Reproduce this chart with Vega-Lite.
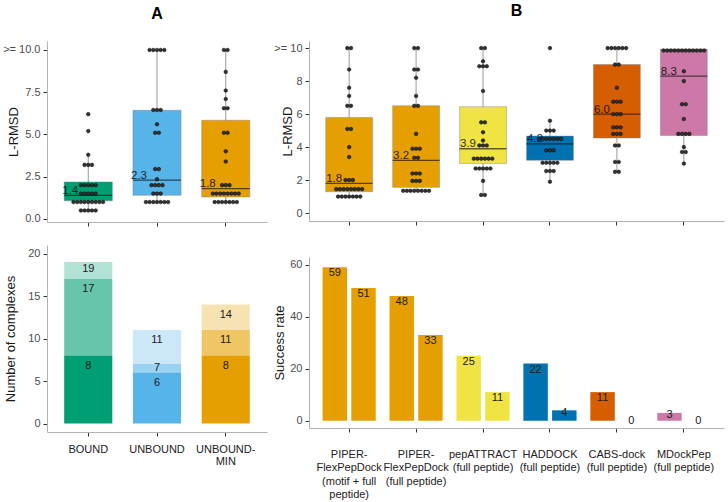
{
  "$schema": "https://vega.github.io/schema/vega-lite/v6.json",
  "padding": {"left": 2, "top": 3, "right": 3, "bottom": 0},
  "background": "white",
  "config": {
    "font": "Liberation Sans",
    "view": {"stroke": null},
    "axis": {"domainColor": "#b3b3b3", "domainWidth": 1, "tickColor": "#333333", "tickSize": 4, "labelColor": "#4d4d4d", "labelFontSize": 11, "labelFont": "Liberation Sans", "titleFont": "Liberation Sans", "titleFontSize": 13, "titleFontWeight": "normal", "titleColor": "#1a1a1a", "grid": false, "labelPadding": 3, "labelOverlap": false},
    "axisX": {"labelAngle": 0},
    "title": {"font": "Liberation Sans", "fontSize": 16, "fontWeight": "bold", "color": "#000000", "anchor": "middle", "frame": "group"}
  },
  "datasets": {
    "boxA": [
      {"g": "BOUND", "lo": 0.5, "q1": 1.07, "med": 1.4, "q3": 2.19, "hi": 3.8},
      {"g": "UNBOUND", "lo": 1.0, "q1": 1.4, "med": 2.3, "q3": 6.43, "hi": 10},
      {"g": "UNBOUND-MIN", "lo": 1.0, "q1": 1.3, "med": 1.8, "q3": 5.84, "hi": 10}
    ],
    "boxB": [
      {"g": "PIPER-FlexPepDock (motif + full peptide)", "lo": 1.0, "q1": 1.29, "med": 1.8, "q3": 5.8, "hi": 10},
      {"g": "PIPER-FlexPepDock (full peptide)", "lo": 1.35, "q1": 1.56, "med": 3.2, "q3": 6.5, "hi": 10},
      {"g": "pepATTRACT (full peptide)", "lo": 1.1, "q1": 3.0, "med": 3.9, "q3": 6.45, "hi": 10},
      {"g": "HADDOCK (full peptide)", "lo": 1.9, "q1": 3.2, "med": 4.2, "q3": 4.67, "hi": 5.6},
      {"g": "CABS-dock (full peptide)", "lo": 2.5, "q1": 4.55, "med": 6.0, "q3": 9.0, "hi": 10},
      {"g": "MDockPep (full peptide)", "lo": 3.0, "q1": 4.7, "med": 8.3, "q3": 9.94, "hi": 9.94}
    ],
    "dotsA": [
      {"g": "BOUND", "v": 6.2}, {"g": "BOUND", "v": 5.2}, {"g": "BOUND", "v": 3.8},
      {"g": "BOUND", "v": 3.2}, {"g": "BOUND", "v": 3.2}, {"g": "BOUND", "v": 3.2},
      {"g": "BOUND", "v": 2.0}, {"g": "BOUND", "v": 2.0}, {"g": "BOUND", "v": 2.0}, {"g": "BOUND", "v": 2.0}, {"g": "BOUND", "v": 2.0},
      {"g": "BOUND", "v": 1.5}, {"g": "BOUND", "v": 1.5}, {"g": "BOUND", "v": 1.5}, {"g": "BOUND", "v": 1.5}, {"g": "BOUND", "v": 1.5},
      {"g": "BOUND", "v": 1.0}, {"g": "BOUND", "v": 1.0}, {"g": "BOUND", "v": 1.0}, {"g": "BOUND", "v": 1.0}, {"g": "BOUND", "v": 1.0},
      {"g": "BOUND", "v": 1.0}, {"g": "BOUND", "v": 1.0}, {"g": "BOUND", "v": 1.0}, {"g": "BOUND", "v": 1.0},
      {"g": "BOUND", "v": 0.5}, {"g": "BOUND", "v": 0.5}, {"g": "BOUND", "v": 0.5}, {"g": "BOUND", "v": 0.5}, {"g": "BOUND", "v": 0.5},
      {"g": "UNBOUND", "v": 10}, {"g": "UNBOUND", "v": 10}, {"g": "UNBOUND", "v": 10}, {"g": "UNBOUND", "v": 10}, {"g": "UNBOUND", "v": 10},
      {"g": "UNBOUND", "v": 6.45}, {"g": "UNBOUND", "v": 6.45}, {"g": "UNBOUND", "v": 6.45},
      {"g": "UNBOUND", "v": 5.6}, {"g": "UNBOUND", "v": 5.1}, {"g": "UNBOUND", "v": 5.1},
      {"g": "UNBOUND", "v": 2.95}, {"g": "UNBOUND", "v": 2.95}, {"g": "UNBOUND", "v": 2.35},
      {"g": "UNBOUND", "v": 2.0}, {"g": "UNBOUND", "v": 2.0}, {"g": "UNBOUND", "v": 2.0}, {"g": "UNBOUND", "v": 2.0},
      {"g": "UNBOUND", "v": 1.5}, {"g": "UNBOUND", "v": 1.5}, {"g": "UNBOUND", "v": 1.5},
      {"g": "UNBOUND", "v": 1.0}, {"g": "UNBOUND", "v": 1.0}, {"g": "UNBOUND", "v": 1.0}, {"g": "UNBOUND", "v": 1.0}, {"g": "UNBOUND", "v": 1.0}, {"g": "UNBOUND", "v": 1.0}, {"g": "UNBOUND", "v": 1.0},
      {"g": "UNBOUND-MIN", "v": 10}, {"g": "UNBOUND-MIN", "v": 10}, {"g": "UNBOUND-MIN", "v": 8.7}, {"g": "UNBOUND-MIN", "v": 7.6}, {"g": "UNBOUND-MIN", "v": 7.1},
      {"g": "UNBOUND-MIN", "v": 6.55}, {"g": "UNBOUND-MIN", "v": 6.55}, {"g": "UNBOUND-MIN", "v": 5.1}, {"g": "UNBOUND-MIN", "v": 5.1},
      {"g": "UNBOUND-MIN", "v": 4.0}, {"g": "UNBOUND-MIN", "v": 3.4},
      {"g": "UNBOUND-MIN", "v": 2.0}, {"g": "UNBOUND-MIN", "v": 2.0}, {"g": "UNBOUND-MIN", "v": 2.0},
      {"g": "UNBOUND-MIN", "v": 1.5}, {"g": "UNBOUND-MIN", "v": 1.5}, {"g": "UNBOUND-MIN", "v": 1.5}, {"g": "UNBOUND-MIN", "v": 1.5},
      {"g": "UNBOUND-MIN", "v": 1.5}, {"g": "UNBOUND-MIN", "v": 1.5}, {"g": "UNBOUND-MIN", "v": 1.5}, {"g": "UNBOUND-MIN", "v": 1.5},
      {"g": "UNBOUND-MIN", "v": 1.0}, {"g": "UNBOUND-MIN", "v": 1.0}, {"g": "UNBOUND-MIN", "v": 1.0}, {"g": "UNBOUND-MIN", "v": 1.0},
      {"g": "UNBOUND-MIN", "v": 1.0}, {"g": "UNBOUND-MIN", "v": 1.0}, {"g": "UNBOUND-MIN", "v": 1.0}
    ],
    "dotsB": [
      {"g": "PIPER-FlexPepDock (motif + full peptide)", "v": 10}, {"g": "PIPER-FlexPepDock (motif + full peptide)", "v": 10},
      {"g": "PIPER-FlexPepDock (motif + full peptide)", "v": 8.7}, {"g": "PIPER-FlexPepDock (motif + full peptide)", "v": 7.6},
      {"g": "PIPER-FlexPepDock (motif + full peptide)", "v": 7.1}, {"g": "PIPER-FlexPepDock (motif + full peptide)", "v": 6.5},
      {"g": "PIPER-FlexPepDock (motif + full peptide)", "v": 6.5}, {"g": "PIPER-FlexPepDock (motif + full peptide)", "v": 5.1},
      {"g": "PIPER-FlexPepDock (motif + full peptide)", "v": 5.1}, {"g": "PIPER-FlexPepDock (motif + full peptide)", "v": 4.0},
      {"g": "PIPER-FlexPepDock (motif + full peptide)", "v": 3.4}, {"g": "PIPER-FlexPepDock (motif + full peptide)", "v": 2.0},
      {"g": "PIPER-FlexPepDock (motif + full peptide)", "v": 2.0}, {"g": "PIPER-FlexPepDock (motif + full peptide)", "v": 2.0},
      {"g": "PIPER-FlexPepDock (motif + full peptide)", "v": 1.45}, {"g": "PIPER-FlexPepDock (motif + full peptide)", "v": 1.45},
      {"g": "PIPER-FlexPepDock (motif + full peptide)", "v": 1.45}, {"g": "PIPER-FlexPepDock (motif + full peptide)", "v": 1.45},
      {"g": "PIPER-FlexPepDock (motif + full peptide)", "v": 1.45}, {"g": "PIPER-FlexPepDock (motif + full peptide)", "v": 1.45},
      {"g": "PIPER-FlexPepDock (motif + full peptide)", "v": 1.45}, {"g": "PIPER-FlexPepDock (motif + full peptide)", "v": 1.45},
      {"g": "PIPER-FlexPepDock (motif + full peptide)", "v": 1.0}, {"g": "PIPER-FlexPepDock (motif + full peptide)", "v": 1.0},
      {"g": "PIPER-FlexPepDock (motif + full peptide)", "v": 1.0}, {"g": "PIPER-FlexPepDock (motif + full peptide)", "v": 1.0},
      {"g": "PIPER-FlexPepDock (motif + full peptide)", "v": 1.0}, {"g": "PIPER-FlexPepDock (motif + full peptide)", "v": 1.0},
      {"g": "PIPER-FlexPepDock (motif + full peptide)", "v": 1.0},
      {"g": "PIPER-FlexPepDock (full peptide)", "v": 10}, {"g": "PIPER-FlexPepDock (full peptide)", "v": 10},
      {"g": "PIPER-FlexPepDock (full peptide)", "v": 8.7}, {"g": "PIPER-FlexPepDock (full peptide)", "v": 8.7},
      {"g": "PIPER-FlexPepDock (full peptide)", "v": 8.2}, {"g": "PIPER-FlexPepDock (full peptide)", "v": 7.1},
      {"g": "PIPER-FlexPepDock (full peptide)", "v": 6.5}, {"g": "PIPER-FlexPepDock (full peptide)", "v": 6.5},
      {"g": "PIPER-FlexPepDock (full peptide)", "v": 4.8},
      {"g": "PIPER-FlexPepDock (full peptide)", "v": 3.9}, {"g": "PIPER-FlexPepDock (full peptide)", "v": 3.9}, {"g": "PIPER-FlexPepDock (full peptide)", "v": 3.9},
      {"g": "PIPER-FlexPepDock (full peptide)", "v": 3.35}, {"g": "PIPER-FlexPepDock (full peptide)", "v": 3.35},
      {"g": "PIPER-FlexPepDock (full peptide)", "v": 2.4}, {"g": "PIPER-FlexPepDock (full peptide)", "v": 2.4}, {"g": "PIPER-FlexPepDock (full peptide)", "v": 2.4},
      {"g": "PIPER-FlexPepDock (full peptide)", "v": 1.95}, {"g": "PIPER-FlexPepDock (full peptide)", "v": 1.95}, {"g": "PIPER-FlexPepDock (full peptide)", "v": 1.95},
      {"g": "PIPER-FlexPepDock (full peptide)", "v": 1.35}, {"g": "PIPER-FlexPepDock (full peptide)", "v": 1.35},
      {"g": "PIPER-FlexPepDock (full peptide)", "v": 1.35}, {"g": "PIPER-FlexPepDock (full peptide)", "v": 1.35},
      {"g": "PIPER-FlexPepDock (full peptide)", "v": 1.35}, {"g": "PIPER-FlexPepDock (full peptide)", "v": 1.35},
      {"g": "PIPER-FlexPepDock (full peptide)", "v": 1.35}, {"g": "PIPER-FlexPepDock (full peptide)", "v": 1.35},
      {"g": "pepATTRACT (full peptide)", "v": 10}, {"g": "pepATTRACT (full peptide)", "v": 10},
      {"g": "pepATTRACT (full peptide)", "v": 9.2},
      {"g": "pepATTRACT (full peptide)", "v": 8.9}, {"g": "pepATTRACT (full peptide)", "v": 8.9}, {"g": "pepATTRACT (full peptide)", "v": 8.9},
      {"g": "pepATTRACT (full peptide)", "v": 7.4},
      {"g": "pepATTRACT (full peptide)", "v": 5.5}, {"g": "pepATTRACT (full peptide)", "v": 5.5},
      {"g": "pepATTRACT (full peptide)", "v": 4.9}, {"g": "pepATTRACT (full peptide)", "v": 4.4},
      {"g": "pepATTRACT (full peptide)", "v": 4.1}, {"g": "pepATTRACT (full peptide)", "v": 4.1}, {"g": "pepATTRACT (full peptide)", "v": 4.1},
      {"g": "pepATTRACT (full peptide)", "v": 3.3}, {"g": "pepATTRACT (full peptide)", "v": 3.3}, {"g": "pepATTRACT (full peptide)", "v": 3.3},
      {"g": "pepATTRACT (full peptide)", "v": 3.3}, {"g": "pepATTRACT (full peptide)", "v": 3.3}, {"g": "pepATTRACT (full peptide)", "v": 3.3},
      {"g": "pepATTRACT (full peptide)", "v": 2.7}, {"g": "pepATTRACT (full peptide)", "v": 2.7}, {"g": "pepATTRACT (full peptide)", "v": 2.7},
      {"g": "pepATTRACT (full peptide)", "v": 2.7}, {"g": "pepATTRACT (full peptide)", "v": 2.7},
      {"g": "pepATTRACT (full peptide)", "v": 1.95},
      {"g": "pepATTRACT (full peptide)", "v": 1.1}, {"g": "pepATTRACT (full peptide)", "v": 1.1},
      {"g": "HADDOCK (full peptide)", "v": 10}, {"g": "HADDOCK (full peptide)", "v": 5.6},
      {"g": "HADDOCK (full peptide)", "v": 5.0}, {"g": "HADDOCK (full peptide)", "v": 5.0}, {"g": "HADDOCK (full peptide)", "v": 5.0},
      {"g": "HADDOCK (full peptide)", "v": 4.5}, {"g": "HADDOCK (full peptide)", "v": 4.5}, {"g": "HADDOCK (full peptide)", "v": 4.5},
      {"g": "HADDOCK (full peptide)", "v": 4.5}, {"g": "HADDOCK (full peptide)", "v": 4.5}, {"g": "HADDOCK (full peptide)", "v": 4.5},
      {"g": "HADDOCK (full peptide)", "v": 4.5},
      {"g": "HADDOCK (full peptide)", "v": 3.8}, {"g": "HADDOCK (full peptide)", "v": 3.8}, {"g": "HADDOCK (full peptide)", "v": 3.8},
      {"g": "HADDOCK (full peptide)", "v": 3.05}, {"g": "HADDOCK (full peptide)", "v": 3.05}, {"g": "HADDOCK (full peptide)", "v": 3.05},
      {"g": "HADDOCK (full peptide)", "v": 3.05}, {"g": "HADDOCK (full peptide)", "v": 3.05},
      {"g": "HADDOCK (full peptide)", "v": 2.55}, {"g": "HADDOCK (full peptide)", "v": 2.55}, {"g": "HADDOCK (full peptide)", "v": 2.55},
      {"g": "HADDOCK (full peptide)", "v": 1.9},
      {"g": "CABS-dock (full peptide)", "v": 10}, {"g": "CABS-dock (full peptide)", "v": 10}, {"g": "CABS-dock (full peptide)", "v": 10},
      {"g": "CABS-dock (full peptide)", "v": 10}, {"g": "CABS-dock (full peptide)", "v": 10}, {"g": "CABS-dock (full peptide)", "v": 10},
      {"g": "CABS-dock (full peptide)", "v": 9.0}, {"g": "CABS-dock (full peptide)", "v": 9.0},
      {"g": "CABS-dock (full peptide)", "v": 7.6},
      {"g": "CABS-dock (full peptide)", "v": 6.75}, {"g": "CABS-dock (full peptide)", "v": 6.75}, {"g": "CABS-dock (full peptide)", "v": 6.75},
      {"g": "CABS-dock (full peptide)", "v": 6.0}, {"g": "CABS-dock (full peptide)", "v": 6.0}, {"g": "CABS-dock (full peptide)", "v": 6.0},
      {"g": "CABS-dock (full peptide)", "v": 5.2}, {"g": "CABS-dock (full peptide)", "v": 5.2}, {"g": "CABS-dock (full peptide)", "v": 5.2},
      {"g": "CABS-dock (full peptide)", "v": 4.8}, {"g": "CABS-dock (full peptide)", "v": 4.8}, {"g": "CABS-dock (full peptide)", "v": 4.8},
      {"g": "CABS-dock (full peptide)", "v": 4.1}, {"g": "CABS-dock (full peptide)", "v": 4.1},
      {"g": "CABS-dock (full peptide)", "v": 3.1}, {"g": "CABS-dock (full peptide)", "v": 3.1},
      {"g": "CABS-dock (full peptide)", "v": 2.5}, {"g": "CABS-dock (full peptide)", "v": 2.5},
      {"g": "MDockPep (full peptide)", "v": 9.85}, {"g": "MDockPep (full peptide)", "v": 9.85}, {"g": "MDockPep (full peptide)", "v": 9.85},
      {"g": "MDockPep (full peptide)", "v": 9.85}, {"g": "MDockPep (full peptide)", "v": 9.85}, {"g": "MDockPep (full peptide)", "v": 9.85},
      {"g": "MDockPep (full peptide)", "v": 9.85}, {"g": "MDockPep (full peptide)", "v": 9.85}, {"g": "MDockPep (full peptide)", "v": 9.85},
      {"g": "MDockPep (full peptide)", "v": 9.85}, {"g": "MDockPep (full peptide)", "v": 9.85}, {"g": "MDockPep (full peptide)", "v": 9.85},
      {"g": "MDockPep (full peptide)", "v": 8.6}, {"g": "MDockPep (full peptide)", "v": 8.0},
      {"g": "MDockPep (full peptide)", "v": 6.6}, {"g": "MDockPep (full peptide)", "v": 6.6},
      {"g": "MDockPep (full peptide)", "v": 5.7},
      {"g": "MDockPep (full peptide)", "v": 4.8}, {"g": "MDockPep (full peptide)", "v": 4.8}, {"g": "MDockPep (full peptide)", "v": 4.8}, {"g": "MDockPep (full peptide)", "v": 4.8},
      {"g": "MDockPep (full peptide)", "v": 4.0},
      {"g": "MDockPep (full peptide)", "v": 3.7}, {"g": "MDockPep (full peptide)", "v": 3.7},
      {"g": "MDockPep (full peptide)", "v": 3.0}
    ],
    "stack": [
      {"g": "BOUND", "level": 1, "lo": 0, "hi": 8},
      {"g": "BOUND", "level": 2, "lo": 8, "hi": 17},
      {"g": "BOUND", "level": 3, "lo": 17, "hi": 19},
      {"g": "UNBOUND", "level": 1, "lo": 0, "hi": 6},
      {"g": "UNBOUND", "level": 2, "lo": 6, "hi": 7},
      {"g": "UNBOUND", "level": 3, "lo": 7, "hi": 11},
      {"g": "UNBOUND-MIN", "level": 1, "lo": 0, "hi": 8},
      {"g": "UNBOUND-MIN", "level": 2, "lo": 8, "hi": 11},
      {"g": "UNBOUND-MIN", "level": 3, "lo": 11, "hi": 14}
    ],
    "rates": [
      {"g": "PIPER-FlexPepDock (motif + full peptide)", "set": "1", "rate": 59},
      {"g": "PIPER-FlexPepDock (motif + full peptide)", "set": "2", "rate": 51},
      {"g": "PIPER-FlexPepDock (full peptide)", "set": "1", "rate": 48},
      {"g": "PIPER-FlexPepDock (full peptide)", "set": "2", "rate": 33},
      {"g": "pepATTRACT (full peptide)", "set": "1", "rate": 25},
      {"g": "pepATTRACT (full peptide)", "set": "2", "rate": 11},
      {"g": "HADDOCK (full peptide)", "set": "1", "rate": 22},
      {"g": "HADDOCK (full peptide)", "set": "2", "rate": 4},
      {"g": "CABS-dock (full peptide)", "set": "1", "rate": 11},
      {"g": "CABS-dock (full peptide)", "set": "2", "rate": 0},
      {"g": "MDockPep (full peptide)", "set": "1", "rate": 3},
      {"g": "MDockPep (full peptide)", "set": "2", "rate": 0}
    ]
  },
  "spacing": 6,
  "resolve": {"scale": {"x": "independent", "y": "independent", "xOffset": "independent"}},
  "hconcat": [
    {
      "spacing": 18,
      "align": "each",
      "resolve": {"scale": {"x": "independent", "y": "independent", "xOffset": "independent"}},
      "vconcat": [
        {
          "title": {"text": "A", "offset": 19},
          "width": 220,
          "height": 181,
          "resolve": {"scale": {"xOffset": "independent"}},
          "encoding": {
            "x": {"field": "g", "type": "nominal", "scale": {"domain": ["BOUND", "UNBOUND", "UNBOUND-MIN"], "paddingInner": 0, "paddingOuter": 0.1}, "axis": {"labels": false, "title": null}}
          },
          "layer": [
            {
              "data": {"name": "boxA"},
              "mark": {"type": "rule", "color": "#999999", "strokeWidth": 1},
              "encoding": {
                "y": {"field": "lo", "type": "quantitative", "title": "L-RMSD", "scale": {"domain": [-0.18, 10.53], "nice": false, "zero": false}, "axis": {"values": [0, 2.5, 5, 7.5, 10], "labelOverlap": false, "labelExpr": "datum.value == 10 ? '>= 10.0' : format(datum.value, '.1f')", "titleX": -27}},
                "y2": {"field": "hi"}
              }
            },
            {
              "data": {"name": "boxA"},
              "mark": {"type": "bar", "width": {"band": 0.7}, "stroke": "#7a7a7a", "strokeWidth": 0.6, "strokeOpacity": 0.7},
              "encoding": {
                "y": {"field": "q1", "type": "quantitative"},
                "y2": {"field": "q3"},
                "color": {"field": "g", "type": "nominal", "legend": null, "scale": {"domain": ["BOUND", "UNBOUND", "UNBOUND-MIN", "PIPER-FlexPepDock (motif + full peptide)", "PIPER-FlexPepDock (full peptide)", "pepATTRACT (full peptide)", "HADDOCK (full peptide)", "CABS-dock (full peptide)", "MDockPep (full peptide)"], "range": ["#009E73", "#56B4E9", "#E69F00", "#E69F00", "#E69F00", "#F0E442", "#0072B2", "#D55E00", "#CC79A7"]}}
              }
            },
            {
              "data": {"name": "boxA"},
              "mark": {"type": "tick", "orient": "horizontal", "size": 48, "thickness": 1.3, "color": "#000000", "opacity": 0.6},
              "encoding": {"y": {"field": "med", "type": "quantitative"}}
            },
            {
              "data": {"name": "boxA"},
              "mark": {"type": "text", "dx": -18, "dy": -1.5, "baseline": "alphabetic", "align": "center", "fontSize": 11.5, "color": "#000000", "opacity": 0.8},
              "encoding": {"y": {"field": "med", "type": "quantitative"}, "text": {"field": "med", "type": "quantitative", "format": ".1f"}}
            },
            {
              "data": {"name": "dotsA"},
              "transform": [
                {"window": [{"op": "row_number", "as": "rk"}], "groupby": ["g", "v"]},
                {"joinaggregate": [{"op": "count", "as": "cnt"}], "groupby": ["g", "v"]},
                {"calculate": "datum.rk - (datum.cnt + 1) / 2", "as": "off"}
              ],
              "mark": {"type": "circle", "size": 13, "color": "#333333", "stroke": "#000000", "strokeWidth": 0.5, "opacity": 1},
              "encoding": {
                "xOffset": {"field": "off", "type": "quantitative", "scale": {"domain": [-9.3, 9.3]}},
                "y": {"field": "v", "type": "quantitative"}
              }
            }
          ]
        },
        {
          "data": {"name": "stack"},
          "width": 220,
          "height": 187,
          "encoding": {
            "x": {"field": "g", "type": "nominal", "scale": {"domain": ["BOUND", "UNBOUND", "UNBOUND-MIN"], "paddingInner": 0, "paddingOuter": 0.1}, "axis": {"title": null, "labelColor": "#222222", "labelPadding": 7.5, "labelLineHeight": 12, "labelExpr": "datum.value == 'UNBOUND-MIN' ? ['UNBOUND-', 'MIN'] : datum.value"}}
          },
          "layer": [
            {
              "mark": {"type": "bar", "width": {"band": 0.7}},
              "encoding": {
                "y": {"field": "lo", "type": "quantitative", "title": "Number of complexes", "scale": {"domain": [-0.99, 21.0], "nice": false, "zero": false}, "axis": {"values": [0, 5, 10, 15, 20], "titleX": -30}},
                "y2": {"field": "hi"},
                "color": {"field": "g", "type": "nominal", "legend": null, "scale": {"domain": ["BOUND", "UNBOUND", "UNBOUND-MIN", "PIPER-FlexPepDock (motif + full peptide)", "PIPER-FlexPepDock (full peptide)", "pepATTRACT (full peptide)", "HADDOCK (full peptide)", "CABS-dock (full peptide)", "MDockPep (full peptide)"], "range": ["#009E73", "#56B4E9", "#E69F00", "#E69F00", "#E69F00", "#F0E442", "#0072B2", "#D55E00", "#CC79A7"]}},
                "opacity": {"field": "level", "type": "quantitative", "legend": null, "scale": {"type": "linear", "domain": [1, 2, 3], "range": [1, 0.6, 0.3]}}
              }
            },
            {
              "mark": {"type": "text", "baseline": "middle", "fontSize": 11, "color": "#1a1a1a", "dy": {"expr": "min(10, (datum.hi - datum.lo) * 3.5)"}},
              "encoding": {
                "y": {"field": "hi", "type": "quantitative"},
                "text": {"field": "hi", "type": "quantitative"}
              }
            }
          ]
        }
      ]
    },
    {
      "spacing": 31,
      "align": "each",
      "resolve": {"scale": {"x": "independent", "y": "independent", "xOffset": "independent"}},
      "vconcat": [
        {
          "title": {"text": "B", "offset": 22},
          "width": 415,
          "height": 180,
          "resolve": {"scale": {"xOffset": "independent"}},
          "encoding": {
            "x": {"field": "g", "type": "nominal", "scale": {"domain": ["PIPER-FlexPepDock (motif + full peptide)", "PIPER-FlexPepDock (full peptide)", "pepATTRACT (full peptide)", "HADDOCK (full peptide)", "CABS-dock (full peptide)", "MDockPep (full peptide)"], "paddingInner": 0, "paddingOuter": 0.1}, "axis": {"labels": false, "title": null}}
          },
          "layer": [
            {
              "data": {"name": "boxB"},
              "mark": {"type": "rule", "color": "#999999", "strokeWidth": 1},
              "encoding": {
                "y": {"field": "lo", "type": "quantitative", "title": "L-RMSD", "scale": {"domain": [-0.48, 10.43], "nice": false, "zero": false}, "axis": {"tickCount": 6, "labelOverlap": false, "labelExpr": "datum.value == 10 ? '>= 10' : datum.label", "titleX": -15}},
                "y2": {"field": "hi"}
              }
            },
            {
              "data": {"name": "boxB"},
              "mark": {"type": "bar", "width": {"band": 0.7}, "stroke": "#7a7a7a", "strokeWidth": 0.6, "strokeOpacity": 0.7},
              "encoding": {
                "y": {"field": "q1", "type": "quantitative"},
                "y2": {"field": "q3"},
                "color": {"field": "g", "type": "nominal", "legend": null, "scale": {"domain": ["BOUND", "UNBOUND", "UNBOUND-MIN", "PIPER-FlexPepDock (motif + full peptide)", "PIPER-FlexPepDock (full peptide)", "pepATTRACT (full peptide)", "HADDOCK (full peptide)", "CABS-dock (full peptide)", "MDockPep (full peptide)"], "range": ["#009E73", "#56B4E9", "#E69F00", "#E69F00", "#E69F00", "#F0E442", "#0072B2", "#D55E00", "#CC79A7"]}}
              }
            },
            {
              "data": {"name": "boxB"},
              "mark": {"type": "tick", "orient": "horizontal", "size": 47, "thickness": 1.3, "color": "#000000", "opacity": 0.6},
              "encoding": {"y": {"field": "med", "type": "quantitative"}}
            },
            {
              "data": {"name": "boxB"},
              "mark": {"type": "text", "dx": -15, "dy": -1.5, "baseline": "alphabetic", "align": "center", "fontSize": 11.5, "color": "#000000", "opacity": 0.8},
              "encoding": {"y": {"field": "med", "type": "quantitative"}, "text": {"field": "med", "type": "quantitative", "format": ".1f"}}
            },
            {
              "data": {"name": "dotsB"},
              "transform": [
                {"window": [{"op": "row_number", "as": "rk"}], "groupby": ["g", "v"]},
                {"joinaggregate": [{"op": "count", "as": "cnt"}], "groupby": ["g", "v"]},
                {"calculate": "datum.rk - (datum.cnt + 1) / 2", "as": "off"}
              ],
              "mark": {"type": "circle", "size": 13, "color": "#333333", "stroke": "#000000", "strokeWidth": 0.5, "opacity": 1},
              "encoding": {
                "xOffset": {"field": "off", "type": "quantitative", "scale": {"domain": [-9.05, 9.05]}},
                "y": {"field": "v", "type": "quantitative"}
              }
            }
          ]
        },
        {
          "data": {"name": "rates"},
          "width": 415,
          "height": 171,
          "encoding": {
            "x": {"field": "g", "type": "nominal", "scale": {"domain": ["PIPER-FlexPepDock (motif + full peptide)", "PIPER-FlexPepDock (full peptide)", "pepATTRACT (full peptide)", "HADDOCK (full peptide)", "CABS-dock (full peptide)", "MDockPep (full peptide)"], "paddingInner": 0, "paddingOuter": 0.1}, "axis": {"title": null, "labelColor": "#222222", "labelPadding": 16, "labelLineHeight": 13.5, "labelExpr": "datum.value == 'PIPER-FlexPepDock (motif + full peptide)' ? ['PIPER-', 'FlexPepDock', '(motif + full', 'peptide)'] : datum.value == 'PIPER-FlexPepDock (full peptide)' ? ['PIPER-', 'FlexPepDock', '(full peptide)'] : [split(datum.value, ' (')[0], '(' + split(datum.value, ' (')[1]]"}},
            "xOffset": {"field": "set", "type": "nominal", "scale": {"paddingInner": 0.148, "paddingOuter": 0.24}}
          },
          "layer": [
            {
              "mark": {"type": "bar"},
              "encoding": {
                "y": {"field": "rate", "type": "quantitative", "title": "Success rate", "scale": {"domain": [-2.8, 62.97], "nice": false, "zero": false}, "axis": {"values": [0, 10, 20, 30, 40, 50, 60], "titleX": -23}},
                "y2": {"datum": 0},
                "color": {"field": "g", "type": "nominal", "legend": null, "scale": {"domain": ["BOUND", "UNBOUND", "UNBOUND-MIN", "PIPER-FlexPepDock (motif + full peptide)", "PIPER-FlexPepDock (full peptide)", "pepATTRACT (full peptide)", "HADDOCK (full peptide)", "CABS-dock (full peptide)", "MDockPep (full peptide)"], "range": ["#009E73", "#56B4E9", "#E69F00", "#E69F00", "#E69F00", "#F0E442", "#0072B2", "#D55E00", "#CC79A7"]}}
              }
            },
            {
              "mark": {"type": "text", "baseline": "middle", "fontSize": 11, "color": "#1a1a1a", "dy": {"expr": "min(6, datum.rate * 0.6)"}},
              "encoding": {
                "y": {"field": "rate", "type": "quantitative"},
                "text": {"field": "rate", "type": "quantitative"}
              }
            }
          ]
        }
      ]
    }
  ]
}
